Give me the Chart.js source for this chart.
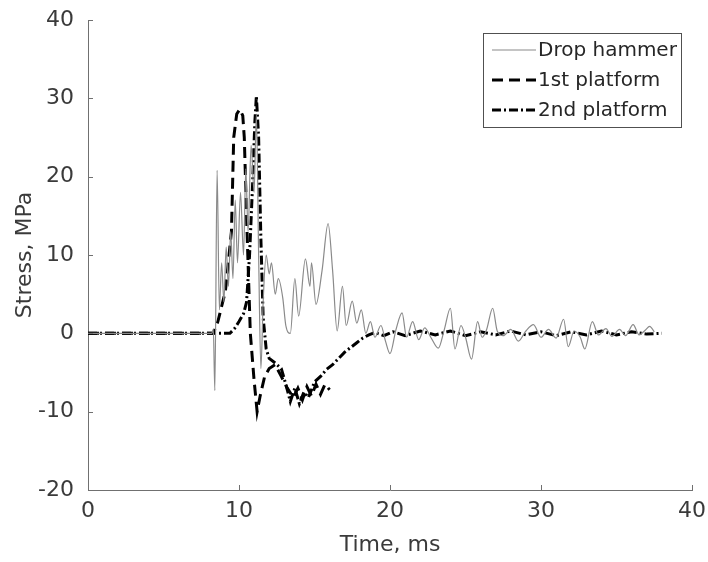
<!DOCTYPE html>
<html>
<head>
<meta charset="utf-8">
<script src="https://cdn.jsdelivr.net/npm/chart.js@4.4.0/dist/chart.umd.min.js"></script>
<style>
  html, body { margin: 0; padding: 0; background: #fff; }
  #wrap { width: 708px; height: 562px; }
</style>
</head>
<body>
<div id="wrap"><canvas id="stressChart" width="708" height="562"></canvas></div>
<script>
// Stress records, time in ms, stress in MPa
const hammerTime = [0, 8.2, 8.3, 8.4, 8.55, 8.7, 8.85, 9.0, 9.15, 9.3, 9.45, 9.6, 9.75, 9.9, 10.1, 10.3, 10.45, 10.6, 10.8, 11.0,
  11.15, 11.3, 11.45, 11.6, 11.8, 12.0, 12.15, 12.4, 12.6, 12.9, 13.1, 13.4, 13.7, 13.95, 14.4, 14.7, 14.8, 15.1, 15.5, 15.9,
  16.2, 16.5, 16.85, 17.1, 17.5, 17.8, 18.1, 18.4, 18.7, 19.0, 19.4, 19.7, 20.0, 20.4, 20.8, 21.1, 21.5, 21.9, 22.3, 22.7,
  23.2, 23.6, 24.0, 24.3, 24.7, 25.0, 25.4, 25.8, 26.1, 26.4, 26.8, 27.1, 27.5, 28.0, 28.5, 29.0, 29.5, 30.0, 30.5, 31.0,
  31.5, 31.8, 32.2, 32.6, 32.9, 33.4, 33.8, 34.3, 34.7, 35.2, 35.6, 36.1, 36.5, 36.9, 37.2, 37.5];
const hammerStress = [0, 0, 0.5, -7.3, 20.8, 3, 9, 4, 11, 6, 13, 7, 17, 9, 18, 10, 21, 13, 24, 18,
  28, 10, -4.5, 4, 10, 7.6, 9, 5, 7, 4.5, 1, 0, 7, 2.2, 9.5, 6, 9, 3.7, 8, 14,
  8, 0.3, 6, 1, 4.1, 1.3, 3, 0, 1.5, -0.5, 1, -1, -2.6, 0.5, 2.6, -0.5, 1.5, -0.8, 0.7, -0.5,
  -1.9, 0.5, 3.2, -2, 1, -0.5, -3.3, 1.5, -0.5, 0.5, 3.2, 0.3, -0.3, 0.5, -1, 0.3, 1.1, -0.5, 0.5, -0.6,
  1.8, -1.7, 0.3, -0.5, -2, 1.5, -0.2, 0.6, -0.4, 0.5, -0.3, 1.1, -0.2, 0.4, 0.9, 0.2];

const plat1Time = [0, 8.3, 8.6, 9.1, 9.5, 9.65, 9.85, 10.05, 10.25, 10.35, 10.5, 10.75, 11.0, 11.2, 11.4, 11.7, 12.0, 12.4,
  12.8, 13.2, 13.6, 13.9, 14.2, 14.5, 14.8, 15.1, 15.4, 15.7, 16.0];
const plat1Stress = [0, 0, 1.5, 5.4, 13, 25, 28, 28.6, 27.8, 25, 15, 0, -6, -10, -8, -5.5, -4.5, -4,
  -5.5, -7, -8.2, -7, -8.5, -6.8, -8, -6.5, -7.8, -6.5, -7.2];

const plat2Time = [0, 9.4, 9.7, 10.0, 10.3, 10.5, 10.7, 10.9, 11.05, 11.15, 11.3, 11.45, 11.6, 11.8, 12.0, 12.4, 12.8, 13.1,
  13.4, 13.7, 14.0, 14.3, 14.6, 15.0, 15.4, 15.8, 16.2, 16.6, 17.0, 17.4, 17.8, 18.2, 18.6, 19.0, 19.6, 20.2, 21, 22, 23,
  24, 25, 26, 27, 28, 29, 30, 31, 32, 33, 34, 35, 36, 37, 38];
const plat2Stress = [0, 0, 0.6, 1.5, 2.5, 4, 10, 19, 27, 30.3, 25, 12, 2, -2, -3.2, -3.8, -4.5, -6.5,
  -8.7, -7, -9, -7.5, -8.2, -6.2, -5.5, -4.6, -4, -3.2, -2.4, -1.8, -1.2, -0.6, -0.2, 0.1, -0.3, 0.2, -0.3, 0.3, -0.2,
  0.3, -0.3, 0.2, -0.2, 0.3, -0.2, 0.2, -0.3, 0.2, -0.2, 0.3, -0.2, 0.2, -0.1, 0];

const xTicks = [0, 10, 20, 30, 40];
const yTicks = [-20, -10, 0, 10, 20, 30, 40];

const FONT = '"DejaVu Sans", sans-serif';
const AXIS_COLOR = '#707070';
const TEXT_COLOR = '#3a3a3a';

function toPoints(t, s) {
  return t.map((v, i) => ({ x: v, y: s[i] }));
}

// matlab style ticks pointing into the axes
const innerTicks = {
  id: 'innerTicks',
  afterDraw(chart) {
    const { ctx, scales: { x, y } } = chart;
    ctx.save();
    ctx.strokeStyle = AXIS_COLOR;
    ctx.lineWidth = 1;
    ctx.beginPath();
    xTicks.forEach(v => {
      const px = Math.round(x.getPixelForValue(v)) + 0.5;
      ctx.moveTo(px, y.bottom);
      ctx.lineTo(px, y.bottom - 5);
    });
    yTicks.forEach(v => {
      const py = Math.round(y.getPixelForValue(v)) + 0.5;
      ctx.moveTo(x.left, py);
      ctx.lineTo(x.left + 5, py);
    });
    ctx.stroke();
    ctx.restore();
  }
};

// boxed legend in the upper right corner of the plot
const boxLegend = {
  id: 'boxLegend',
  afterDraw(chart) {
    const ctx = chart.ctx;
    const bx = 483.5, by = 33.5, bw = 198, bh = 94;
    ctx.save();
    ctx.fillStyle = '#fff';
    ctx.fillRect(bx, by, bw, bh);
    ctx.strokeStyle = '#505050';
    ctx.lineWidth = 1;
    ctx.strokeRect(bx, by, bw, bh);
    ctx.font = '20px ' + FONT;
    ctx.textBaseline = 'middle';
    chart.data.datasets.forEach((ds, i) => {
      const ly = 50 + i * 30;
      ctx.beginPath();
      ctx.strokeStyle = ds.borderColor;
      ctx.lineWidth = ds.borderWidth;
      ctx.setLineDash(ds.borderDash || []);
      ctx.moveTo(492, ly);
      ctx.lineTo(536, ly);
      ctx.stroke();
      ctx.setLineDash([]);
      ctx.fillStyle = '#262626';
      ctx.fillText(ds.label, 538, ly + 1);
    });
    ctx.restore();
  }
};

new Chart(document.getElementById('stressChart'), {
  type: 'line',
  data: {
    datasets: [
      {
        label: 'Drop hammer',
        data: toPoints(hammerTime, hammerStress),
        borderColor: '#8a8a8a',
        borderWidth: 1.2,
        pointRadius: 0,
        cubicInterpolationMode: 'monotone'
      },
      {
        label: '1st platform',
        data: toPoints(plat1Time, plat1Stress),
        borderColor: '#000',
        borderWidth: 3,
        borderDash: [11, 6],
        pointRadius: 0,
        tension: 0
      },
      {
        label: '2nd platform',
        data: toPoints(plat2Time, plat2Stress),
        borderColor: '#000',
        borderWidth: 3,
        borderDash: [9, 3, 2, 3],
        pointRadius: 0,
        tension: 0
      }
    ]
  },
  options: {
    responsive: false,
    animation: false,
    events: [],
    layout: { padding: { top: 20, right: 16, left: 0, bottom: 0 } },
    plugins: {
      legend: { display: false },
      tooltip: { enabled: false }
    },
    scales: {
      x: {
        type: 'linear',
        min: 0,
        max: 40,
        afterBuildTicks: s => { s.ticks = xTicks.map(v => ({ value: v })); },
        afterFit: s => { s.height = 72; s.paddingLeft = 0; s.paddingRight = 0; },
        grid: { drawOnChartArea: false, drawTicks: false },
        border: { color: AXIS_COLOR, width: 1 },
        ticks: { color: TEXT_COLOR, font: { family: FONT, size: 22 }, padding: 8, maxRotation: 0 },
        title: { display: true, text: 'Time, ms', color: TEXT_COLOR, font: { family: FONT, size: 22 }, padding: { top: 0 } }
      },
      y: {
        type: 'linear',
        min: -20,
        max: 40,
        afterBuildTicks: s => { s.ticks = yTicks.map(v => ({ value: v })); },
        afterFit: s => { s.width = 88; s.paddingTop = 0; s.paddingBottom = 0; },
        grid: { drawOnChartArea: false, drawTicks: false },
        border: { color: AXIS_COLOR, width: 1 },
        ticks: { color: TEXT_COLOR, font: { family: FONT, size: 22 }, padding: 14 },
        title: { display: true, text: 'Stress, MPa', color: TEXT_COLOR, font: { family: FONT, size: 22 }, padding: { top: 12, bottom: 0 } }
      }
    }
  },
  plugins: [innerTicks, boxLegend]
});
</script>
</body>
</html>
